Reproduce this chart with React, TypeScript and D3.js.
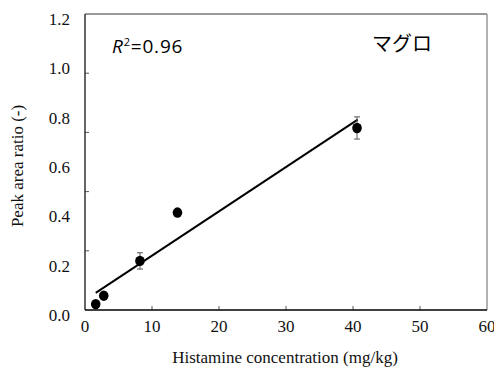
import React from "react";
import * as d3 from "d3";

const concentration = [1.6, 2.8, 8.2, 13.8, 40.6];
const peakRatio = [0.024, 0.058, 0.199, 0.395, 0.738];
const errorSD = [0, 0, 0.033, 0.012, 0.045];
const fitSlope = 0.01795;
const fitIntercept = 0.041;
const fitRange = [1.6, 40.7];
const xTicks = [0, 10, 20, 30, 40, 50, 60];
const yLabels = [0, 0.2, 0.4, 0.6, 0.8, 1.0, 1.2];
const yTickMarks = [0.24, 0.48, 0.72, 0.96];
const r2Text = "0.96";
const speciesLabel = "マグロ";

const W = 494;
const H = 367;
const L = 85, R = 487, T = 14, B = 310;

export default function App() {
  const x = d3.scaleLinear().domain([0, 60]).range([L, R]);
  const y = d3.scaleLinear().domain([0, 1.2]).range([B, T]);
  const line = d3.line<number>().x((d) => x(d)).y((d) => y(fitIntercept + fitSlope * d));
  const serif = "'Liberation Serif', 'Times New Roman', serif";
  const sans = "'Open Sans', 'DejaVu Sans', sans-serif";
  return (
    <svg width={W} height={H} style={{ position: "absolute", left: 0, top: 0, background: "#fff" }}>
      <rect x={0} y={0} width={W} height={H} fill="#fff" />
      <line x1={L} x2={R} y1={T} y2={T} stroke="#777" strokeWidth={1.5} />
      <line x1={R} x2={R} y1={T} y2={B} stroke="#999" strokeWidth={1.5} />
      {yTickMarks.map((v) => (
        <line key={"yt" + v} x1={L} x2={L + 4} y1={y(v)} y2={y(v)} stroke="#555" strokeWidth={1} />
      ))}
      {xTicks.slice(1, -1).map((v) => (
        <line key={"xt" + v} x1={x(v)} x2={x(v)} y1={B} y2={B - 4} stroke="#555" strokeWidth={1} />
      ))}
      <line x1={L} x2={L} y1={T} y2={B} stroke="#333" strokeWidth={1.5} />
      <line x1={L} x2={R} y1={B} y2={B} stroke="#000" strokeWidth={1.5} />
      {yLabels.map((v) => (
        <text key={"yl" + v} x={70} y={y(v) + 11} textAnchor="end" fontFamily={serif} fontSize={17} fill="#111">
          {v.toFixed(1)}
        </text>
      ))}
      {xTicks.map((v) => (
        <text key={"xl" + v} x={x(v)} y={332} textAnchor="middle" fontFamily={serif} fontSize={17} fill="#111">
          {v}
        </text>
      ))}
      <path d={line(fitRange) || ""} stroke="#000" strokeWidth={2} fill="none" />
      {concentration.map((c, i) =>
        errorSD[i] > 0 ? (
          <g key={"e" + i} stroke="#555" strokeWidth={1}>
            <line x1={x(c)} x2={x(c)} y1={y(peakRatio[i] - errorSD[i])} y2={y(peakRatio[i] + errorSD[i])} />
            <line x1={x(c) - 3} x2={x(c) + 3} y1={y(peakRatio[i] - errorSD[i])} y2={y(peakRatio[i] - errorSD[i])} />
            <line x1={x(c) - 3} x2={x(c) + 3} y1={y(peakRatio[i] + errorSD[i])} y2={y(peakRatio[i] + errorSD[i])} />
          </g>
        ) : null
      )}
      {concentration.map((c, i) => (
        <ellipse key={"p" + i} cx={x(c)} cy={y(peakRatio[i])} rx={4.8} ry={5.2} fill="#000" />
      ))}
      <text x={112} y={53} fontFamily={sans} fontSize={19} letterSpacing={0.8} fill="#000">
        <tspan fontStyle="italic">R</tspan>
        <tspan fontSize={11} dy={-7}>2</tspan>
        <tspan dy={7}>={r2Text}</tspan>
      </text>
      <text x={372} y={51} fontFamily="'Noto Sans CJK JP', sans-serif" fontSize={20} fill="#000">
        {speciesLabel}
      </text>
      <text x={285} y={363} textAnchor="middle" fontFamily={serif} fontSize={17} fill="#111">
        Histamine concentration (mg/kg)
      </text>
      <text
        transform={`translate(23, ${(T + B) / 2 + 4}) rotate(-90)`}
        textAnchor="middle"
        fontFamily={serif}
        fontSize={17}
        fill="#111"
      >
        Peak area ratio (-)
      </text>
    </svg>
  );
}
